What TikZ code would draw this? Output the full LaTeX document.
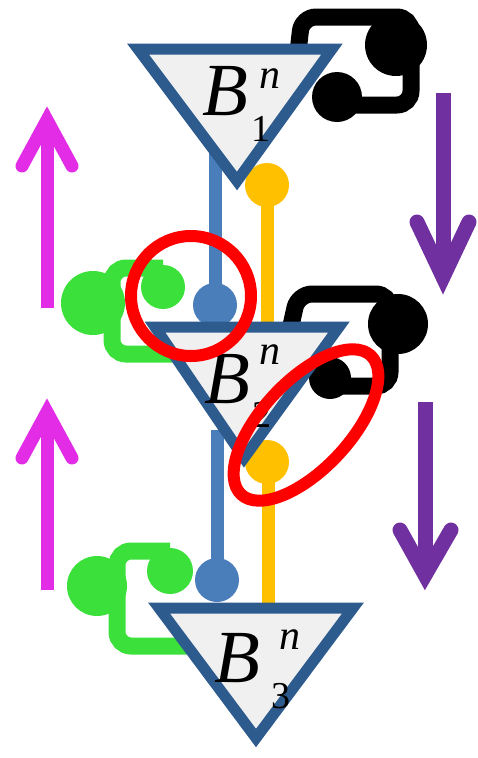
\documentclass[tikz,border=0pt]{standalone}
\usepackage{fontspec}
\setmainfont{Liberation Serif}
\definecolor{triblue}{HTML}{2E5B8E}
\definecolor{trifill}{HTML}{F0F0F0}
\definecolor{lineblue}{HTML}{4A7EBB}
\definecolor{gold}{HTML}{FFC000}
\definecolor{lgreen}{HTML}{3BE03B}
\definecolor{magen}{HTML}{E22CE6}
\definecolor{purp}{HTML}{7030A0}
% B with superscript n and a subscript; #2,#3: kern/raise of n; #4,#5: kern/raise of subscript
\newcommand\bnlabel[5]{{\fontsize{75}{75}\selectfont\itshape B}%
\rlap{\kern#2pt\raisebox{#3pt}{\fontsize{42}{42}\selectfont\itshape n}}%
\kern#4pt\raisebox{#5pt}{\fontsize{38}{38}\selectfont #1}}
\begin{document}
\begin{tikzpicture}[x=1pt,y=-1pt,
  tri/.style={draw=triblue, fill=trifill, line width=11pt, line join=miter},
  shaft/.style={line width=13pt, line cap=butt},
  head/.style={line width=13pt, line cap=round, line join=miter},
  bar/.style={line width=13pt},
  hook/.style={line width=17pt, rounded corners=14pt},
  blab/.style={inner sep=0pt, anchor=base west},
  ring/.style={draw=red, line width=12pt}]
\useasboundingbox (0,0) rectangle (478,758);
\fill[white] (0,0) rectangle (478,758);

% arrows
\draw[magen, shaft] (47,308) -- (47,125);
\draw[magen, head] (22,166) -- (47,120) -- (72,166);
\draw[magen, shaft] (47,590) -- (47,417);
\draw[magen, head] (22,458) -- (47,412) -- (72,458);
\draw[purp, shaft, line width=15pt] (443,93) -- (443,272);
\draw[purp, head, line width=15pt] (417,222) -- (443,277) -- (469,222);
\draw[purp, shaft, line width=15pt] (425,402) -- (425,570);
\draw[purp, head, line width=15pt] (400,530) -- (425,575) -- (451,530);

% blue and yellow strands
\draw[lineblue, bar] (215,140) -- (215,305);
\fill[lineblue] (215,305) circle (22);
\draw[lineblue, bar] (217,430) -- (217,580);
\fill[lineblue] (217,580) circle (22);
\fill[gold] (267,185) circle (22);
\draw[gold, bar] (267,185) -- (267,330);
\fill[gold] (267,462) circle (22);
\draw[gold, bar] (268,462) -- (268,610);

% green hooks
\draw[lgreen, hook] (163,268) -- (112,268) -- (112,354) -- (172,354);
\fill[lgreen] (93,303) circle (32);
\fill[lgreen] (163,287) circle (22);
\draw[lgreen, hook] (170,551) -- (117,551) -- (117,646) -- (188,646);
\fill[lgreen] (97,586) circle (30);
\fill[lgreen] (170,571) circle (23);

% black hooks
\draw[black, hook] (298,52) -- (302,17) -- (411,17) -- (411,105) -- (337,105);
\fill[black] (396,45) circle (31);
\fill[black] (337,97) circle (25);
\draw[black, hook] (290,330) -- (298,294) -- (390,294) -- (390,386) -- (330,386);
\fill[black] (398,324) circle (30);
\fill[black] (330,378) circle (21);

% triangles
\draw[tri] (138,49) -- (332,49) -- (237,181) -- cycle;
\draw[tri] (155,327) -- (339,327) -- (244,458) -- cycle;
\draw[tri] (159,608) -- (353,608) -- (256,738) -- cycle;

% labels
\node[blab] (l1) at (202,115) {\bnlabel{1}{11.5}{26.5}{3.5}{-26}};
\node[blab] (l2) at (204,403) {\bnlabel{2}{9.5}{38.5}{2.5}{-24}};
\node[blab] (l3) at (214,682) {\bnlabel{3}{19.5}{32.5}{11.5}{-26}};

% red marks
\draw[ring] (191,296) circle (60);
\draw[ring, rotate around={47:(306,425)}] (306,425) ellipse [x radius=95, y radius=44];
\end{tikzpicture}
\end{document}
